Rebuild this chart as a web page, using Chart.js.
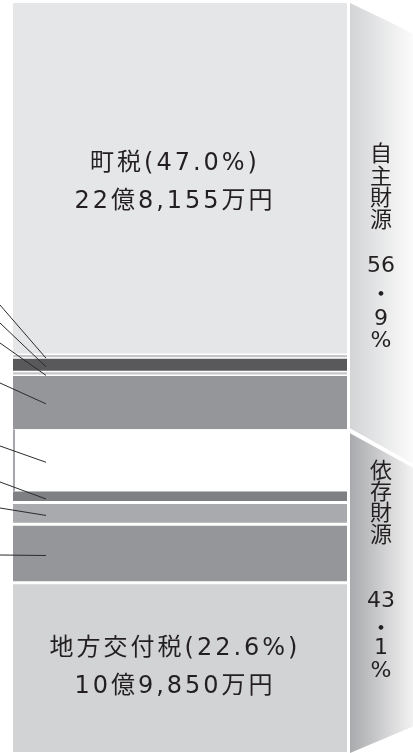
<!DOCTYPE html>
<html>
<head>
<meta charset="utf-8">
<script src="https://cdn.jsdelivr.net/npm/chart.js@4"></script>
<style>
  html, body { margin: 0; padding: 0; background: #fff; }
  #wrap { width: 413px; height: 753px; position: relative; }
</style>
</head>
<body>
<div id="wrap"><canvas id="grafica"></canvas></div>
<script>
// revenue breakdown, percent of total (top to bottom)
const categorias = ["町税", "分担金及び負担金", "使用料及び手数料", "財産収入", "繰入金・繰越金・諸収入",
                    "国庫支出金", "地方譲与税等", "県支出金", "町債", "地方交付税"];
const porcentajes = [47.0, 0.3, 2.0, 0.3, 7.3, 8.3, 1.5, 2.9, 7.8, 22.6];
const grupos = ["自主財源", "依存財源"];
const gruposPct = ["56・9", "43・1"];
const gruposCuenta = [5, 5];   // how many categories belong to each group
const etiquetas = [
  { idx: 0, lineas: ["町税(47.0%)", "22億8,155万円"] },
  { idx: 9, lineas: ["地方交付税(22.6%)", "10億9,850万円"] }
];

// look
const colores = ["#e5e6e8", "#c5c6c8", "#59595c", "#c5c6c8", "#959699",
                 "#ffffff", "#7f8084", "#a9aaad", "#959699", "#d2d3d5"];
const g = 1.5;
const bordes = [
  { top: 0, bottom: g, left: 0, right: 0 },
  { top: 0, bottom: 0, left: 0, right: 0 },
  { top: g, bottom: g, left: 0, right: 0 },
  { top: 0, bottom: 0, left: 0, right: 0 },
  { top: g, bottom: 0, left: 0, right: 0 },
  { top: 0, bottom: 0, left: 2, right: 0 },
  { top: 0, bottom: g, left: 0, right: 0 },
  { top: g, bottom: g, left: 0, right: 0 },
  { top: g, bottom: g, left: 0, right: 0 },
  { top: g, bottom: 0, left: 0, right: 0 }
];
// leader lines: y where they leave the left edge (labels are off the picture)
const guiaInicioY = [null, 305, 323, 343, 383, 446, 482, 508, 555, null];
const etiquetaDy = [3, -1];

const TXT = "#231f20";
const FONT_MAIN = '24px "DejaVu Sans", "Noto Sans CJK JP", sans-serif';

function acumulado(i) {
  let s = 0;
  for (let k = 0; k < i; k++) s += porcentajes[k];
  return s;
}

const extras = {
  id: "extras",
  afterDatasetsDraw(chart) {
    const ctx = chart.ctx;
    const y = chart.scales.y;
    const area = chart.chartArea;

    // leader lines
    ctx.save();
    ctx.strokeStyle = "#2b2b2b";
    ctx.lineWidth = 1;
    porcentajes.forEach((v, i) => {
      if (guiaInicioY[i] == null) return;
      const yEnd = y.getPixelForValue(acumulado(i) + v / 2) + 2;
      ctx.beginPath();
      ctx.moveTo(0, guiaInicioY[i]);
      ctx.lineTo(area.left + 33, yEnd);
      ctx.stroke();
    });
    ctx.restore();

    // labels inside big segments
    ctx.save();
    ctx.fillStyle = TXT;
    ctx.font = FONT_MAIN;
    ctx.textAlign = "center";
    ctx.textBaseline = "middle";
    ctx.letterSpacing = "3px";
    const cx = (area.left + area.right) / 2 - 5;
    etiquetas.forEach((e, n) => {
      const mid = y.getPixelForValue(acumulado(e.idx) + porcentajes[e.idx] / 2) + etiquetaDy[n];
      ctx.fillText(e.lineas[0], cx, mid - 18);
      ctx.fillText(e.lineas[1], cx, mid + 20);
    });
    ctx.restore();

    // right side brackets
    const x0 = area.right + 3, x1 = chart.width;
    let start = 0;
    const formas = [];
    gruposCuenta.forEach((n, gi) => {
      let s = 0;
      for (let k = start; k < start + n; k++) s += porcentajes[k];
      formas.push({ a: acumulado(start), b: acumulado(start) + s, gi });
      start += n;
    });
    const grad = [["#d3d4d6", "#fbfbfb"], ["#a9aaad", "#f2f2f2"]];
    formas.forEach(f => {
      const ya = y.getPixelForValue(f.a);
      const yb = y.getPixelForValue(f.b);
      const w = x1 - x0;
      ctx.save();
      const lg = ctx.createLinearGradient(x0, 0, x1, 0);
      lg.addColorStop(0, grad[f.gi][0]);
      lg.addColorStop(1, grad[f.gi][1]);
      ctx.fillStyle = lg;
      ctx.beginPath();
      if (f.gi === 0) {
        ctx.moveTo(x0, ya);
        ctx.lineTo(x1, ya + w * 0.48);
        ctx.lineTo(x1, yb + w * 0.55);
        ctx.lineTo(x0, yb - 1);
      } else {
        ctx.moveTo(x0, ya + 4);
        ctx.lineTo(x1, ya + 4 + w * 0.55);
        ctx.lineTo(x1, yb + 1 - w * 0.42);
        ctx.lineTo(x0, yb + 1);
      }
      ctx.closePath();
      ctx.fill();
      ctx.restore();
    });

    // vertical group texts
    const tx = x0 + 31;
    const posY = [[153, 176, 197, 219, 266, 293, 319, 341], [470, 491, 512, 534, 601, 627, 648, 671]];
    ctx.save();
    ctx.fillStyle = TXT;
    ctx.textAlign = "center";
    ctx.textBaseline = "middle";
    grupos.forEach((nombre, gi) => {
      const partes = gruposPct[gi].split("・");
      const items = [...nombre.split(""), partes[0], "・", partes[1], "%"];
      items.forEach((t, k) => {
        ctx.font = (k < 4 || t === "・")
          ? '22px "Noto Sans CJK JP", sans-serif'
          : '22px "DejaVu Sans", sans-serif';
        ctx.fillText(t, tx, posY[gi][k]);
      });
    });
    ctx.restore();
  }
};

new Chart(document.getElementById("grafica").getContext("2d"), {
  type: "bar",
  data: {
    labels: ["歳入"],
    datasets: categorias.map((c, i) => ({
      label: c,
      data: [porcentajes[i]],
      backgroundColor: colores[i],
      borderColor: i === 5 ? "#a6a7aa" : "#ffffff",
      borderWidth: bordes[i],
      borderSkipped: false,
      inflateAmount: 0,
      barPercentage: 1,
      categoryPercentage: 1
    }))
  },
  options: {
    responsive: true,
    maintainAspectRatio: false,
    animation: false,
    layout: { padding: { left: 13, right: 66, top: 3, bottom: 1 } },
    plugins: { legend: { display: false }, tooltip: { enabled: false } },
    scales: {
      x: { stacked: true, display: false },
      y: { stacked: true, display: false, min: 0, max: 100, reverse: true }
    }
  },
  plugins: [extras]
});
</script>
</body>
</html>
